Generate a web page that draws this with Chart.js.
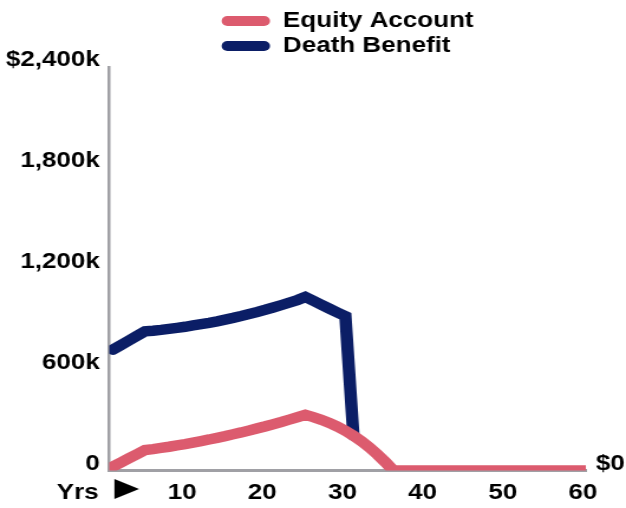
<!DOCTYPE html>
<html><head><meta charset="utf-8">
<script src="https://cdn.jsdelivr.net/npm/chart.js@4/dist/chart.umd.min.js"></script>
<style>
@font-face{font-family:'BigPointer';src:local('Liberation Sans Bold'),local('LiberationSans-Bold');font-weight:700;unicode-range:U+25BA;size-adjust:160%;}
html,body{margin:0;padding:0;background:#fff;}canvas{display:block;}
</style>
</head><body>
<canvas id="c" width="530" height="508" style="width:626px;height:508px"></canvas>
<script>
// ---- data (values in $ thousands) ----
const years = [1,2,3,4,5,6,7,8,9,10,11,12,13,14,15,16,17,18,19,20,21,22,23,24,25,26,27,28,29,30,
  31,32,33,34,35,36,37,38,39,40,41,42,43,44,45,46,47,48,49,50,51,52,53,54,55,56,57,58,59,60];
const equityAccount = [24,48,73,97,122,128,135,142,150,158,167,176,185,195,205,216,227,239,251,263,
  276,289,303,317,332,318,302,284,262,237,208,175,138,96,50,0,0,0,0,0,
  0,0,0,0,0,0,0,0,0,0,0,0,0,0,0,0,0,0,0,0];
const deathBenefit = [719,746,774,801,828,832,837,843,849,855,863,871,879,888,898,908,919,931,943,956,
  970,984,999,1014,1033,1010,986,963,940,918,208,null,null,null,null,null,null,null,null,null,
  null,null,null,null,null,null,null,null,null,null,null,null,null,null,null,null,null,null,null,null];
const seriesNames = ['Equity Account', 'Death Benefit'];
const seriesColors = ['#dc5b6e', '#0b1e66'];
const xTickValues = [0, 10, 20, 30, 40, 50, 60];
const xTickLabels = ['Yrs \u25BA', '10', '20', '30', '40', '50', '60'];
const yTickValues = [0, 600, 1200, 1800, 2400];
const yTickLabels = ['0', '600k', '1,200k', '1,800k', '$2,400k'];
const rightTickValues = [0];
const rightTickLabels = ['$0'];

const FONT = {family: "BigPointer, 'Liberation Sans', Arial, sans-serif", weight: 'bold', size: 22, lineHeight: 1.2};
const AXIS_GREY = '#a0a0a5';
Chart.defaults.font = FONT;
Chart.defaults.color = '#000';

const equalLegendRows = {
  id: 'equalLegendRows',
  afterLayout(chart) {
    const lg = chart.legend;
    if (lg && lg.lineWidths && lg.lineWidths.length > 1) {
      const m = Math.max(...lg.lineWidths);
      lg.lineWidths = lg.lineWidths.map(() => m);
    }
  }
};

function labelFrom(values, labels) {
  return (v) => { const i = values.indexOf(v); return i >= 0 ? labels[i] : ''; };
}
const noGrid = {display: false, drawTicks: false, tickLength: 0};

const chart = new Chart(document.getElementById('c'), {
  type: 'line',
  data: {
    labels: years,
    datasets: [
      {label: seriesNames[0], data: years.map((x, i) => ({x, y: equityAccount[i]})),
       borderColor: seriesColors[0], backgroundColor: seriesColors[0]},
      {label: seriesNames[1], data: years.map((x, i) => ({x, y: deathBenefit[i]})),
       borderColor: seriesColors[1], backgroundColor: seriesColors[1]}
    ]
  },
  options: {
    responsive: false,
    devicePixelRatio: 1,
    animation: false,
    layout: {padding: {top: 7, left: -3, right: -7.5, bottom: -7}},
    elements: {
      line: {borderWidth: 10.5, borderCapStyle: 'round', borderJoinStyle: 'miter', tension: 0, fill: false},
      point: {radius: 0, hoverRadius: 0}
    },
    plugins: {
      tooltip: {enabled: false},
      legend: {
        position: 'top',
        fullSize: false,
        align: 'center',
        labels: {
          font: FONT,
          color: '#000',
          boxWidth: 41,
          boxHeight: 10,
          padding: 3,
          useBorderRadius: true,
          borderRadius: 5,
          generateLabels(chart) {
            return Chart.defaults.plugins.legend.labels.generateLabels(chart).map(it =>
              Object.assign(it, {lineWidth: 0, fillStyle: it.strokeStyle}));
          }
        }
      }
    },
    scales: {
      x: {
        type: 'linear',
        min: 0.55,
        max: 60,
        grid: noGrid,
        border: {display: true, color: AXIS_GREY, width: 3},
        afterBuildTicks(scale) { scale.ticks = xTickValues.map(v => ({value: v})); },
        ticks: {
          autoSkip: false, maxRotation: 0, minRotation: 0,
          padding: 9, labelOffset: -2.5, font: FONT, color: '#000',
          callback: labelFrom(xTickValues, xTickLabels)
        }
      },
      y: {
        position: 'left',
        min: 0,
        max: 2400,
        grid: noGrid,
        border: {display: true, color: AXIS_GREY, width: 2.5},
        afterBuildTicks(scale) { scale.ticks = yTickValues.map(v => ({value: v})); },
        ticks: {padding: 8, labelOffset: -7, font: FONT, color: '#000',
          callback: labelFrom(yTickValues, yTickLabels)}
      },
      y2: {
        position: 'right',
        min: 0,
        max: 2400,
        grid: noGrid,
        border: {display: false},
        afterBuildTicks(scale) { scale.ticks = rightTickValues.map(v => ({value: v})); },
        ticks: {padding: 8.5, labelOffset: -7, font: FONT, color: '#000',
          callback: labelFrom(rightTickValues, rightTickLabels)}
      }
    }
  },
  plugins: [equalLegendRows]
});
if (document.fonts && document.fonts.load) {
  document.fonts.load("bold 22px BigPointer", "\u25BA").then(() => chart.update()).catch(() => {});
}
</script>
</body></html>
